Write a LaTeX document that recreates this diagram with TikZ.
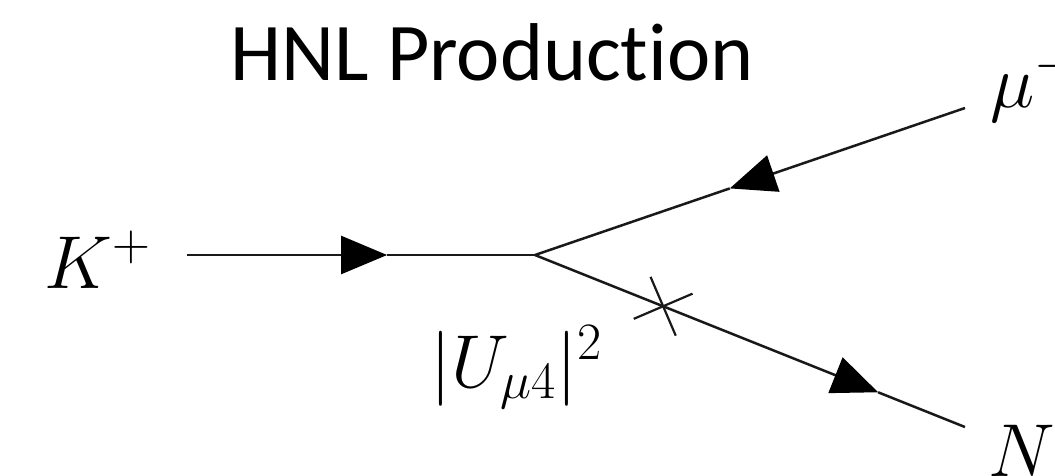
\RequirePackage{fix-cm}
\documentclass[tikz,border=0pt]{standalone}
\usepackage{fontspec}
\newfontfamily\titlefont[Ligatures=NoCommon]{Carlito}
\usetikzlibrary{arrows.meta,calc}
\begin{document}
\begin{tikzpicture}[x=1pt,y=-1pt,
  fline/.style={line width=2.5pt,draw=black!90},
  tipA/.style={-{Triangle[length=46pt,width=38pt,fill=black,color=black]}},
  lbl/.style={inner sep=0pt,font=\fontsize{75}{90}\selectfont},
  xarm/.style={line width=2.2pt,draw=black!90}]
\useasboundingbox (0,0) rectangle (1055,475);
% title
\node[inner sep=0pt,anchor=base west,font=\titlefont\fontsize{82}{98}\selectfont] (title) at (230,80) {HNL Production};
% labels
\node[lbl,anchor=base west] (K) at (44,288) {$K^+$};
\node[lbl,anchor=base] (U) at (516,387) {$|U_{\mu4}|^2$};
\node[lbl,anchor=base west] (mu) at (990,107) {$\mu^-$};
\node[lbl,anchor=base west] (N) at (988,476) {$N$};
% vertex and line ends
\coordinate (a) at (187,255);
\coordinate (v) at (535,255);
\coordinate (me) at (965,108);
\coordinate (ne) at (965,427);
\coordinate (t1) at ($(a)!0.575!(v)$);
\coordinate (t2) at ($(me)!0.547!(v)$);
\coordinate (t3) at ($(v)!0.798!(ne)$);
\coordinate (cx) at ($(v)!0.298!(ne)$);
% lines with arrows
\draw[fline,tipA] (a) -- (t1);
\draw[fline] (t1) -- (v);
\draw[fline,tipA] (me) -- (t2);
\draw[fline] (t2) -- (v);
\draw[fline,tipA] (v) -- (t3);
\draw[fline] (t3) -- (ne);
% mixing cross
\draw[xarm] ($(cx)+(-12.6,-29.4)$) -- ($(cx)+(12.6,29.4)$);
\draw[xarm] ($(cx)+(-29.4,12.6)$) -- ($(cx)+(29.4,-12.6)$);
\end{tikzpicture}
\end{document}
